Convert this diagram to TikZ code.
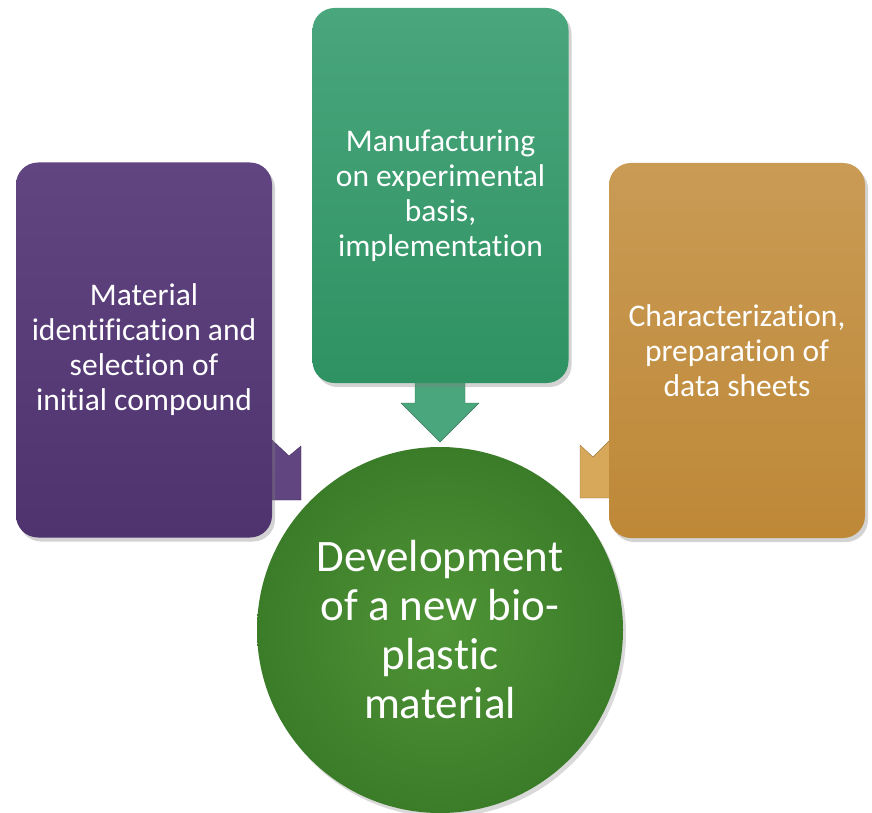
\documentclass[tikz,border=0pt]{standalone}
\usepackage{fontspec}
\setmainfont{Carlito}[Ligatures=NoCommon]
\usepackage{tikz}
\usetikzlibrary{shadows,calc}
\definecolor{violetTop}{HTML}{614581}
\definecolor{violetBot}{HTML}{4E336F}
\definecolor{mintTop}{HTML}{4AA67D}
\definecolor{mintBot}{HTML}{2E9262}
\definecolor{goldTop}{HTML}{C99B55}
\definecolor{goldBot}{HTML}{BE8837}
\definecolor{goldTab}{HTML}{D8A85A}
\definecolor{leafTop}{HTML}{4F9436}
\definecolor{leafBot}{HTML}{3B7C29}
\tikzset{
  phasebox/.style={rounded corners=22pt, minimum width=256pt, minimum height=375pt,
    align=center, text=white, font=\fontsize{31.5}{35}\selectfont,
    drop shadow={opacity=0.35, shadow xshift=3pt, shadow yshift=-4pt}},
  goal/.style={circle, minimum size=366pt, inner sep=0pt, align=center, text=white,
    font=\fontsize{45}{49}\selectfont,
    drop shadow={opacity=0.3, shadow xshift=3pt, shadow yshift=-4pt}},
  tab/.style={draw=#1!70!black, line width=0.4pt, fill=#1}
}
\begin{document}
\begin{tikzpicture}[x=1pt,y=-1pt]
\useasboundingbox (0,0) rectangle (872,813);
% small arrows behind the boxes
\draw[tab=violetTop] (272,440) -- (289,456) -- (301,446) -- (301,500) -- (272,500) -- cycle;
\draw[tab=goldTab] (580,445) -- (593,457) -- (610,440) -- (610,498) -- (580,498) -- cycle;
\draw[tab=mintTop] (415,380) -- (465,380) -- (465,403) -- (479,403) -- (440,442) -- (401,403) -- (415,403) -- cycle;
% the three phases
\node[phasebox, top color=violetTop, bottom color=violetBot] (select) at (144,350)
  {Material\\identification and\\selection of\\initial compound};
\node[phasebox, top color=mintTop, bottom color=mintBot] (manuf) at (440.5,195.5)
  {Manufacturing\\on experimental\\basis,\\implementation};
\node[phasebox, top color=goldTop, bottom color=goldBot] (charac) at (737,350.5)
  {Characterization,\\preparation of\\data sheets};
% the goal
\node[goal, inner color=leafTop, outer color=leafBot] (dev) at (440,630)
  {Development\\of a new bio-\\plastic\\material};
\end{tikzpicture}
\end{document}
